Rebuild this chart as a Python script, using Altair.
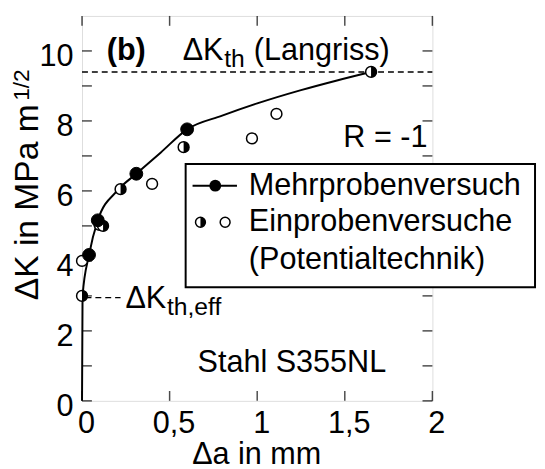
import altair as alt
import pandas as pd

# ---- data ----
fill_x = [0.04, 0.09, 0.31, 0.60]
fill_y = [4.17, 5.16, 6.49, 7.76]
half_x = [0.0, 0.12, 0.22, 0.58, 1.65]
half_y = [3.0, 5.0, 6.05, 7.25, 9.4]
open_x = [0.0, 0.10, 0.40, 0.97, 1.11]
open_y = [4.0, 5.03, 6.2, 7.5, 8.2]
curve_x = [0.0, 0.003, 0.04, 0.09, 0.2, 0.31, 0.45, 0.6, 0.8, 1.0, 1.25, 1.45, 1.65]
curve_y = [0.0, 3.0, 4.17, 5.16, 6.0, 6.49, 7.1, 7.76, 8.15, 8.5, 8.88, 9.15, 9.4]
dk_th = 9.4
dk_eff = 2.95
x_ticks = [0, 0.5, 1, 1.5, 2]
y_ticks = list(range(0, 11))
y_labels = [0, 2, 4, 6, 8, 10]

W, H = 355, 390
FONT = "Liberation Sans"
FS = 31
SUB = 25

xs = alt.Scale(domain=[0, 2], nice=False)
ys = alt.Scale(domain=[0, 11], nice=False)
x_axis = alt.Axis(values=x_ticks, title=None, grid=False, domain=False, ticks=False,
                  labelExpr="replace(toString(datum.value), '.', ',')",
                  labelFont=FONT, labelFontSize=FS, labelColor="black",
                  labelPadding=8, labelOffset=4, labelFlush=False)
y_axis = alt.Axis(values=y_labels, title=None, grid=False, domain=False, ticks=False,
                  labelFont=FONT, labelFontSize=FS, labelColor="black",
                  labelPadding=9, labelOffset=6, labelFlush=False)


def X(field="x"):
    return alt.X(f"{field}:Q", scale=xs, axis=x_axis)


def Y(field="y"):
    return alt.Y(f"{field}:Q", scale=ys, axis=y_axis)


one = pd.DataFrame({"a": [0]})
curve_df = pd.DataFrame({"x": curve_x, "y": curve_y})
fill_df = pd.DataFrame({"x": fill_x, "y": fill_y})
half_df = pd.DataFrame({"x": half_x, "y": half_y})
open_df = pd.DataFrame({"x": open_x, "y": open_y})
xt_df = pd.DataFrame({"x": x_ticks})
yt_df = pd.DataFrame({"y": y_ticks})

HALF = "M0,-1A1,1,0,0,1,0,1Z"

layers = []
# inward ticks
layers.append(alt.Chart(xt_df).mark_tick(color="black", size=10, thickness=1.5, orient="vertical").encode(
    x=X(), y=alt.value(H - 5)))
layers.append(alt.Chart(xt_df).mark_tick(color="black", size=10, thickness=1.5, orient="vertical").encode(
    x=X(), y=alt.value(5)))
layers.append(alt.Chart(yt_df).mark_tick(color="black", size=10, thickness=1.5, orient="horizontal").encode(
    y=Y(), x=alt.value(5)))
layers.append(alt.Chart(yt_df).mark_tick(color="black", size=10, thickness=1.5, orient="horizontal").encode(
    y=Y(), x=alt.value(W - 5)))

# threshold dashed lines
layers.append(alt.Chart(pd.DataFrame({"y": [dk_th]})).mark_rule(color="black", strokeWidth=1.5, strokeDash=[6, 4]).encode(
    y=Y(), x=alt.value(0), x2=alt.value(W)))
layers.append(alt.Chart(pd.DataFrame({"x": [0.02], "x2": [0.22], "y": [dk_eff]})).mark_rule(
    color="black", strokeWidth=1.5, strokeDash=[6, 4]).encode(x=X(), x2="x2:Q", y=Y()))

# curve
layers.append(alt.Chart(curve_df).mark_line(color="black", strokeWidth=2, interpolate="monotone").encode(x=X(), y=Y()))
# open circles and half-filled circles
layers.append(alt.Chart(open_df).mark_point(shape="circle", size=121, filled=True, fill="white", stroke="black",
                                            strokeWidth=1.5, opacity=1).encode(x=X(), y=Y()))
layers.append(alt.Chart(half_df).mark_point(shape="circle", size=121, filled=True, fill="white", stroke="black",
                                            strokeWidth=1.5, opacity=1).encode(x=X(), y=Y()))
layers.append(alt.Chart(half_df).mark_point(shape=HALF, size=121, filled=True, fill="black", strokeWidth=0,
                                            opacity=1).encode(x=X(), y=Y()))
layers.append(alt.Chart(fill_df).mark_point(shape="circle", size=169, filled=True, fill="black", stroke="black",
                                            strokeWidth=1, opacity=1).encode(x=X(), y=Y()))


def txt(s, x, y, size=FS, align="left", baseline="alphabetic", weight="normal", angle=0):
    return alt.Chart(one).mark_text(text=s, font=FONT, fontSize=size, align=align, baseline=baseline,
                                    fontWeight=weight, color="black", angle=angle).encode(
        x=alt.value(x), y=alt.value(y))


# annotations
layers.append(txt("(b)", 25, 45, weight="bold"))
layers.append(txt("ΔK", 102, 45))
layers.append(txt("th", 144, 52, size=SUB))
layers.append(txt("(Langriss)", 174, 45))
layers.append(txt("R = -1", 350, 133, align="right"))
layers.append(txt("ΔK", 44, 296))
layers.append(txt("th,eff", 86, 303, size=SUB))
layers.append(txt("Stahl S355NL", 117, 361))

# axis titles
layers.append(txt("ΔK in MPa m", -45, 288, size=34, angle=270))
layers.append(txt("1/2", -54, 86, size=23, angle=270))
layers.append(txt("Δa in mm", 177, 454, align="center"))

# legend
layers.append(alt.Chart(one).mark_rect(fill="white", stroke="black", strokeWidth=2).encode(
    x=alt.value(105), x2=alt.value(459), y=alt.value(150), y2=alt.value(275)))
layers.append(alt.Chart(one).mark_rule(color="black", strokeWidth=2).encode(
    x=alt.value(112), x2=alt.value(157), y=alt.value(172)))
layers.append(alt.Chart(one).mark_point(shape="circle", size=144, filled=True, fill="black", opacity=1).encode(
    x=alt.value(135), y=alt.value(172)))
layers.append(alt.Chart(one).mark_point(shape="circle", size=100, filled=True, fill="white", stroke="black",
                                        strokeWidth=1.5, opacity=1).encode(x=alt.value(120), y=alt.value(209)))
layers.append(alt.Chart(one).mark_point(shape=HALF, size=100, filled=True, fill="black", opacity=1).encode(
    x=alt.value(120), y=alt.value(209)))
layers.append(alt.Chart(one).mark_point(shape="circle", size=100, filled=True, fill="white", stroke="black",
                                        strokeWidth=1.5, opacity=1).encode(x=alt.value(145), y=alt.value(209)))
layers.append(txt("Mehrprobenversuch", 169, 172, baseline="middle"))
layers.append(txt("Einprobenversuche", 169, 209, baseline="middle"))
layers.append(txt("(Potentialtechnik)", 169, 247, baseline="middle"))

chart = alt.layer(*layers).properties(
    width=W, height=H,
    autosize=alt.AutoSizeParams(type="none"),
    padding={"left": 75, "top": 5, "right": 106, "bottom": 66},
).configure_view(stroke="black", strokeWidth=2).configure(background="white")

chart.save("out.html", embed_options={"renderer": "svg", "actions": False})
